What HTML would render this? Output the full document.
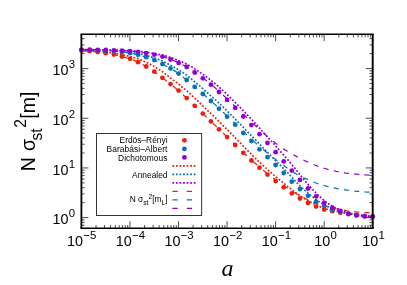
<!DOCTYPE html>
<html><head><meta charset="utf-8"><style>
html,body{margin:0;padding:0;background:#fff;overflow:hidden}
svg{display:block;font-family:"Liberation Sans",sans-serif;will-change:transform;}
</style></head><body>
<svg width="407" height="285" viewBox="0 0 407 285">
<rect width="407" height="285" fill="#fff"/>
<path d="M364.3,212.6 L365.6,212.6 L366.9,212.7 L368.2,212.7 L369.5,212.8M354.1,211.7 L355.4,211.8 L356.7,212.0 L358.0,212.1 L359.3,212.2M343.9,210.2 L345.2,210.4 L346.4,210.7 L347.7,210.9 L349.0,211.0M333.7,208.2 L335.0,208.5 L336.2,208.8 L337.5,209.0 L338.8,209.3M323.5,205.8 L324.8,206.2 L326.1,206.4 L327.3,206.7 L328.6,207.0M313.5,202.2 L314.7,202.7 L315.9,203.3 L317.1,203.7 L318.3,204.1M303.4,197.6 L304.6,198.1 L305.7,198.7 L306.9,199.3 L308.0,199.9M293.3,192.0 L294.4,192.7 L295.6,193.3 L296.7,194.0 L297.8,194.6M283.3,185.3 L284.4,186.1 L285.4,186.8 L286.5,187.5 L287.6,188.3M273.2,177.9 L274.3,178.7 L275.3,179.5 L276.4,180.3 L277.4,181.0M263.2,170.1 L264.2,170.9 L265.2,171.7 L266.2,172.6 L267.2,173.4M253.1,161.5 L254.1,162.4 L255.1,163.2 L256.1,164.1 L257.1,164.9M243.1,152.3 L244.1,153.2 L245.0,154.1 L246.0,155.0 L246.9,155.9M233.1,142.7 L234.0,143.6 L235.0,144.5 L235.9,145.4 L236.8,146.3M223.0,133.0 L224.0,133.9 L224.9,134.8 L225.9,135.7 L226.8,136.6M213.0,123.3 L213.9,124.3 L214.9,125.2 L215.8,126.1 L216.7,127.0M203.0,113.7 L203.9,114.6 L204.9,115.5 L205.8,116.4 L206.7,117.3M193.0,104.1 L193.9,105.0 L194.8,105.9 L195.8,106.8 L196.7,107.7M182.9,94.6 L183.9,95.5 L184.8,96.4 L185.8,97.3 L186.8,98.2M172.8,86.0 L173.9,86.8 L174.9,87.6 L175.9,88.4 L176.9,89.2M162.8,78.1 L163.9,78.9 L164.9,79.7 L165.9,80.5 L167.0,81.3M152.9,70.8 L153.9,71.4 L154.9,72.2 L156.0,73.0 L157.0,73.8M142.7,64.6 L143.9,65.2 L145.0,65.9 L146.2,66.5 L147.3,67.2M132.7,59.9 L133.9,60.4 L135.1,60.9 L136.3,61.4 L137.5,61.9M122.7,56.7 L123.9,57.1 L125.2,57.4 L126.4,57.8 L127.7,58.1M112.7,54.4 L114.0,54.6 L115.3,54.9 L116.5,55.2 L117.8,55.5M102.8,52.8 L104.1,53.0 L105.4,53.1 L106.7,53.4 L108.0,53.6M92.9,51.5 L94.2,51.7 L95.5,51.8 L96.8,51.9 L98.1,52.1M83.1,50.7 L84.4,50.8 L85.7,50.9 L87.0,51.0 L88.3,51.1" fill="none" stroke="#e6210f" stroke-width="1.25"/>
<path d="M364.3,191.9 L365.6,192.0 L366.9,192.1 L368.2,192.2 L369.5,192.2M354.1,191.0 L355.4,191.2 L356.7,191.3 L358.0,191.4 L359.3,191.5M343.9,189.6 L345.2,189.8 L346.4,190.1 L347.7,190.2 L349.0,190.4M333.7,187.9 L335.0,188.1 L336.2,188.3 L337.5,188.6 L338.8,188.8M323.5,185.4 L324.8,185.7 L326.1,186.1 L327.3,186.4 L328.6,186.7M313.4,182.0 L314.7,182.5 L315.9,183.0 L317.1,183.4 L318.3,183.8M303.4,177.5 L304.5,178.1 L305.7,178.6 L306.9,179.2 L308.1,179.7M293.3,172.2 L294.4,172.9 L295.6,173.5 L296.7,174.2 L297.8,174.8M283.4,165.1 L284.4,165.9 L285.4,166.7 L286.5,167.5 L287.5,168.2M273.2,157.7 L274.3,158.4 L275.3,159.2 L276.3,160.0 L277.4,160.8M263.2,149.6 L264.2,150.4 L265.2,151.3 L266.2,152.1 L267.2,152.9M253.2,140.7 L254.2,141.6 L255.1,142.5 L256.1,143.4 L257.0,144.2M243.1,131.5 L244.1,132.3 L245.0,133.2 L246.0,134.1 L246.9,135.0M233.1,121.8 L234.0,122.6 L235.0,123.5 L235.9,124.4 L236.8,125.4M223.0,112.1 L224.0,113.0 L224.9,113.9 L225.8,114.8 L226.8,115.7M213.0,102.6 L213.9,103.5 L214.9,104.4 L215.8,105.3 L216.8,106.2M202.9,93.8 L203.9,94.6 L204.9,95.5 L205.8,96.3 L206.8,97.2M192.9,85.1 L193.9,86.0 L194.8,86.8 L195.8,87.7 L196.8,88.5M182.8,76.8 L183.8,77.7 L184.8,78.5 L185.9,79.3 L186.9,80.1M172.7,69.7 L173.8,70.4 L174.9,71.1 L176.0,71.8 L177.1,72.5M162.6,64.2 L163.8,64.8 L164.9,65.4 L166.0,66.0 L167.2,66.6M152.6,59.4 L153.8,59.8 L154.9,60.3 L156.1,60.9 L157.3,61.5M142.5,56.1 L143.8,56.4 L145.0,56.8 L146.3,57.2 L147.5,57.6M132.5,53.6 L133.8,53.9 L135.1,54.1 L136.4,54.4 L137.6,54.7M122.6,52.1 L123.9,52.2 L125.2,52.4 L126.5,52.6 L127.7,52.8M112.7,51.2 L114.0,51.3 L115.3,51.4 L116.6,51.5 L117.9,51.6M102.8,50.6 L104.1,50.7 L105.4,50.7 L106.7,50.8 L108.0,50.9M92.9,50.2 L94.2,50.2 L95.5,50.3 L96.8,50.3 L98.1,50.4M83.1,49.9 L84.4,49.9 L85.7,50.0 L87.0,50.0 L88.3,50.0" fill="none" stroke="#0a72b2" stroke-width="1.25"/>
<path d="M364.3,174.8 L365.6,174.9 L366.9,175.0 L368.2,175.1 L369.5,175.2M354.1,173.9 L355.4,174.1 L356.7,174.2 L358.0,174.3 L359.3,174.4M343.9,172.7 L345.2,173.0 L346.4,173.2 L347.7,173.3 L349.0,173.5M333.7,170.7 L335.0,171.0 L336.2,171.3 L337.5,171.5 L338.8,171.8M323.5,168.1 L324.8,168.5 L326.1,168.9 L327.3,169.2 L328.6,169.5M313.4,164.5 L314.7,165.0 L315.9,165.4 L317.1,165.9 L318.3,166.3M303.4,160.0 L304.5,160.5 L305.7,161.1 L306.9,161.6 L308.1,162.2M293.3,154.7 L294.4,155.3 L295.6,155.9 L296.7,156.5 L297.8,157.2M283.2,148.7 L284.3,149.4 L285.4,150.1 L286.5,150.8 L287.6,151.4M273.3,141.3 L274.3,142.1 L275.3,142.9 L276.3,143.7 L277.4,144.5M263.2,132.8 L264.2,133.7 L265.2,134.5 L266.2,135.4 L267.2,136.2M253.2,123.6 L254.2,124.5 L255.1,125.4 L256.0,126.3 L257.0,127.2M243.1,114.1 L244.1,115.0 L245.0,115.9 L246.0,116.8 L246.9,117.7M233.1,104.4 L234.0,105.3 L235.0,106.1 L235.9,107.1 L236.8,108.0M223.0,95.0 L224.0,95.9 L224.9,96.8 L225.9,97.7 L226.8,98.6M212.9,85.9 L213.9,86.8 L214.9,87.6 L215.9,88.5 L216.8,89.3M202.8,77.9 L203.8,78.7 L204.9,79.5 L205.9,80.3 L206.9,81.1M192.7,70.8 L193.8,71.5 L194.8,72.3 L195.9,73.0 L197.0,73.8M182.5,64.7 L183.7,65.3 L184.8,65.9 L186.0,66.4 L187.2,67.1M172.5,60.2 L173.7,60.7 L174.9,61.2 L176.1,61.7 L177.3,62.2M162.5,56.5 L163.7,56.9 L164.9,57.3 L166.1,57.8 L167.3,58.2M152.4,54.1 L153.7,54.4 L154.9,54.6 L156.2,54.9 L157.5,55.2M142.4,52.4 L143.7,52.6 L145.0,52.8 L146.3,53.0 L147.6,53.2M132.5,51.2 L133.8,51.3 L135.1,51.4 L136.4,51.5 L137.7,51.6M122.6,50.5 L123.9,50.6 L125.2,50.7 L126.5,50.8 L127.8,50.8M112.7,50.1 L114.0,50.2 L115.3,50.2 L116.6,50.3 L117.9,50.3M102.8,49.8 L104.1,49.8 L105.4,49.9 L106.7,49.9 L108.0,50.0M92.9,49.6 L94.2,49.6 L95.5,49.7 L96.8,49.7 L98.1,49.7M83.1,49.5 L84.4,49.5 L85.7,49.5 L87.0,49.6 L88.3,49.6" fill="none" stroke="#9400d3" stroke-width="1.25"/>
<path d="M81.35,50.57L83.15,50.58M84.85,50.58L86.65,50.59M88.35,50.60L90.15,50.60M91.85,50.76L93.65,50.89M95.35,51.02L97.15,51.15M98.85,51.31L100.65,51.49M102.35,51.65L104.15,51.83M105.86,52.00L107.64,52.27M109.36,52.52L111.14,52.79M112.86,53.03L114.64,53.32M116.31,53.61L118.09,53.92M119.76,54.21L121.54,54.52M123.22,54.89L124.98,55.30M126.67,55.70L128.43,56.11M130.08,56.50L131.82,57.00M133.48,57.47L135.22,57.96M136.90,58.41L138.60,58.98M140.17,59.65L141.83,60.35M143.42,61.02L145.08,61.72M146.66,62.43L148.24,63.27M149.76,64.08L151.34,64.92M152.86,65.72L154.44,66.59M155.89,67.52L157.41,68.50M158.84,69.42L160.36,70.39M161.83,71.28L163.27,72.37M164.63,73.40L166.07,74.48M167.43,75.51L168.87,76.60M170.24,77.63L171.66,78.73M173.04,79.81L174.46,80.92M175.84,81.99L177.26,83.10M178.60,84.15L180.00,85.28M181.35,86.36L182.75,87.49M184.10,88.57L185.50,89.70M186.84,90.81L188.16,92.03M189.44,93.22L190.76,94.45M192.04,95.64L193.36,96.86M194.65,98.06L195.95,99.30M197.20,100.49L198.50,101.73M199.75,102.92L201.05,104.16M202.30,105.35L203.60,106.60M204.85,107.81L206.15,109.06M207.40,110.27L208.70,111.52M209.95,112.73L211.25,113.98M212.50,115.20L213.80,116.45M215.05,117.66L216.35,118.91M217.60,120.12L218.90,121.37M220.11,122.59L221.39,123.86M222.61,125.09L223.89,126.36M225.11,127.59L226.39,128.86M227.62,130.10L228.88,131.38M230.12,132.62L231.38,133.90M232.62,135.15L233.88,136.43M235.12,137.69L236.38,138.98M237.57,140.20L238.83,141.48M240.02,142.70L241.28,143.99M242.52,145.25L243.78,146.53M245.02,147.78L246.28,149.06M247.52,150.31L248.78,151.59M250.01,152.83L251.29,154.10M252.51,155.32L253.79,156.59M255.01,157.81L256.29,159.08M257.49,160.28L258.81,161.52M260.09,162.70L261.41,163.93M262.69,165.12L264.01,166.34M265.28,167.52L266.62,168.72M267.93,169.88L269.27,171.07M270.58,172.23L271.92,173.43M273.21,174.57L274.59,175.71M275.96,176.84L277.34,177.98M278.71,179.10L280.09,180.25M281.45,181.36L282.85,182.49M284.20,183.59L285.60,184.72M286.95,185.82L288.35,186.96M289.69,188.02L291.11,189.13M292.49,190.22L293.91,191.33M295.29,192.42L296.71,193.53M298.15,194.46L299.65,195.44M301.10,196.39L302.60,197.38M304.02,198.34L305.58,199.22M307.07,200.07L308.63,200.95M310.12,201.79L311.68,202.68M313.24,203.45L314.86,204.22M316.44,204.97L318.06,205.74M319.62,206.47L321.28,207.15M322.91,207.72L324.59,208.35M326.21,208.95L327.89,209.57M329.57,209.91L331.33,210.29M333.02,210.66L334.78,211.04M336.47,211.40L338.23,211.76M339.92,212.10L341.68,212.46M343.36,212.81L345.14,213.12M346.81,213.42L348.59,213.74M350.26,214.04L352.04,214.34M353.76,214.60L355.54,214.87M357.26,215.13L359.04,215.40M360.76,215.60L362.54,215.80M364.26,216.00L366.04,216.21M367.75,216.35L369.55,216.44M371.25,216.52L373.05,216.62" fill="none" stroke="#e6210f" stroke-width="1.7"/>
<path d="M81.35,49.88L83.15,49.88M84.85,49.89L86.65,49.90M88.35,49.92L90.15,49.96M91.85,50.00L93.65,50.05M95.35,50.09L97.15,50.15M98.85,50.22L100.65,50.28M102.35,50.35L104.15,50.41M105.85,50.50L107.65,50.59M109.35,50.68L111.15,50.76M112.85,50.86L114.65,50.97M116.35,51.08L118.15,51.19M119.85,51.29L121.65,51.45M123.35,51.60L125.15,51.75M126.86,51.88L128.64,52.08M130.36,52.32L132.14,52.56M133.86,52.79L135.64,53.04M137.32,53.36L139.08,53.73M140.77,54.08L142.53,54.45M144.24,54.82L145.96,55.33M147.64,55.83L149.36,56.34M151.04,56.83L152.76,57.36M154.40,57.94L156.10,58.53M157.75,59.10L159.45,59.69M161.05,60.36L162.65,61.17M164.20,61.95L165.80,62.77M167.35,63.55L168.95,64.37M170.46,65.18L172.04,66.03M173.56,66.83L175.14,67.67M176.64,68.49L178.16,69.46M179.59,70.39L181.11,71.36M182.54,72.28L184.06,73.26M185.44,74.28L186.86,75.40M188.19,76.46L189.61,77.57M190.94,78.63L192.36,79.75M193.67,80.85L195.03,82.02M196.37,83.16L197.73,84.33M199.07,85.46L200.43,86.63M201.73,87.76L203.07,88.95M204.38,90.10L205.72,91.29M207.03,92.44L208.37,93.63M209.67,94.77L211.03,95.95M212.32,97.09L213.68,98.28M214.97,99.41L216.33,100.60M217.60,101.79L218.90,103.04M220.15,104.25L221.45,105.49M222.70,106.70L224.00,107.95M225.21,109.14L226.49,110.42M227.71,111.65L228.99,112.92M230.21,114.15L231.49,115.42M232.71,116.65L233.99,117.93M235.21,119.16L236.49,120.43M237.71,121.66L238.99,122.93M240.22,124.17L241.48,125.46M242.68,126.71L243.92,128.01M245.13,129.27L246.37,130.57M247.58,131.83L248.82,133.13M250.07,134.39L251.33,135.67M252.57,136.93L253.83,138.21M255.07,139.46L256.33,140.75M257.53,142.00L258.77,143.30M259.98,144.58L261.22,145.88M262.43,147.15L263.67,148.46M264.87,149.70L266.13,150.98M267.37,152.23L268.63,153.50M269.87,154.75L271.13,156.03M272.36,157.27L273.64,158.54M274.86,159.76L276.14,161.03M277.36,162.26L278.64,163.53M279.87,164.75L281.13,166.04M282.32,167.26L283.58,168.55M284.77,169.77L286.03,171.05M287.24,172.28L288.46,173.59M289.60,174.86L290.80,176.20M291.95,177.49L293.15,178.83M294.30,180.11L295.50,181.45M296.75,182.68L298.05,183.92M299.30,185.10L300.60,186.34M301.85,187.52L303.15,188.76M304.43,189.90L305.77,191.10M307.08,192.25L308.42,193.44M309.73,194.59L311.07,195.79M312.48,196.84L313.92,197.92M315.33,198.97L316.77,200.05M318.14,201.11L319.66,202.09M321.16,202.91L322.74,203.78M324.26,204.62L325.84,205.50M327.34,206.30L328.96,207.09M330.49,207.85L332.11,208.64M333.64,209.39L335.26,210.18M336.97,210.47L338.73,210.87M340.42,211.25L342.18,211.65M343.88,212.06L345.62,212.50M347.28,212.91L349.02,213.35M350.71,213.78L352.49,214.10M354.16,214.39L355.94,214.70M357.61,215.03L359.39,215.28M361.11,215.49L362.89,215.72M364.61,215.93L366.39,216.16M368.10,216.27L369.90,216.36M371.60,216.49L373.40,216.49" fill="none" stroke="#0a72b2" stroke-width="1.7"/>
<path d="M81.35,49.58L83.15,49.58M84.85,49.59L86.65,49.60M88.35,49.62L90.15,49.64M91.85,49.66L93.65,49.68M95.35,49.70L97.15,49.73M98.85,49.75L100.65,49.77M102.35,49.79L104.15,49.82M105.85,49.87L107.65,49.91M109.35,49.95L111.15,50.00M112.85,50.06L114.65,50.13M116.35,50.19L118.15,50.26M119.85,50.32L121.65,50.39M123.35,50.45L125.15,50.51M126.85,50.56L128.65,50.67M130.35,50.78L132.15,50.89M133.85,51.00L135.65,51.11M137.35,51.26L139.15,51.41M140.85,51.56L142.65,51.72M144.36,51.92L146.14,52.20M147.86,52.48L149.64,52.77M151.36,53.04L153.14,53.36M154.82,53.68L156.58,54.00M158.27,54.32L160.03,54.64M161.73,55.08L163.47,55.51M165.13,55.92L166.87,56.35M168.55,56.84L170.25,57.45M171.85,58.02L173.55,58.63M175.16,59.20L176.84,59.85M178.42,60.53L180.08,61.22M181.67,61.89L183.33,62.59M184.90,63.32L186.50,64.13M188.05,64.92L189.65,65.73M191.22,66.51L192.78,67.39M194.21,68.39L195.69,69.41M197.11,70.37L198.59,71.38M200.02,72.34L201.48,73.39M202.87,74.38L204.33,75.43M205.72,76.43L207.18,77.47M208.59,78.51L210.01,79.62M211.34,80.68L212.76,81.80M214.09,82.86L215.51,83.97M216.83,85.07L218.17,86.28M219.43,87.42L220.77,88.62M222.03,89.76L223.37,90.97M224.66,92.14L225.94,93.40M227.21,94.63L228.49,95.89M229.76,97.12L231.04,98.38M232.31,99.61L233.59,100.88M234.81,102.09L236.09,103.35M237.31,104.56L238.59,105.82M239.81,107.03L241.09,108.30M242.28,109.60L243.52,110.91M244.68,112.15L245.92,113.46M247.08,114.70L248.32,116.01M249.48,117.25L250.72,118.56M251.88,119.80L253.12,121.11M254.28,122.35L255.52,123.66M256.70,124.93L257.90,126.26M259.05,127.56L260.25,128.90M261.40,130.20L262.60,131.55M263.75,132.85L264.95,134.19M266.14,135.49L267.36,136.81M268.54,138.10L269.76,139.43M270.94,140.71L272.16,142.04M273.31,143.30L274.49,144.65M275.66,145.97L276.84,147.32M278.01,148.64L279.19,149.99M280.36,151.32L281.54,152.67M282.71,153.99L283.89,155.34M285.06,156.66L286.24,158.01M287.41,159.33L288.59,160.69M289.73,162.02L290.87,163.42M291.98,164.79L293.12,166.18M294.23,167.55L295.37,168.94M296.49,170.31L297.61,171.72M298.69,173.08L299.81,174.49M300.89,175.85L302.01,177.26M303.08,178.62L304.22,180.01M305.35,181.31L306.55,182.66M307.70,183.97L308.90,185.32M310.05,186.63L311.25,187.98M312.42,189.23L313.68,190.52M314.87,191.74L316.13,193.03M317.32,194.26L318.58,195.55M319.82,196.74L321.18,197.91M322.52,199.06L323.88,200.24M325.22,201.39L326.58,202.56M328.03,203.56L329.57,204.47M331.08,205.36L332.62,206.28M334.10,207.19L335.70,207.99M337.32,208.62L338.98,209.30M340.57,209.93L342.23,210.61M343.85,211.20L345.55,211.78M347.20,212.34L348.90,212.92M350.53,213.47L352.27,213.92M353.97,214.22L355.73,214.57M357.42,214.91L359.18,215.27M360.91,215.46L362.69,215.69M364.41,215.90L366.19,216.13M367.90,216.26L369.70,216.35M371.40,216.43L373.20,216.52" fill="none" stroke="#9400d3" stroke-width="1.7"/>
<circle cx="81.5" cy="50.6" r="2.4" fill="#e6210f"/>
<circle cx="89.6" cy="51.2" r="2.4" fill="#e6210f"/>
<circle cx="97.7" cy="52.0" r="2.4" fill="#e6210f"/>
<circle cx="105.8" cy="53.2" r="2.4" fill="#e6210f"/>
<circle cx="113.9" cy="54.6" r="2.4" fill="#e6210f"/>
<circle cx="121.9" cy="56.5" r="2.4" fill="#e6210f"/>
<circle cx="130.0" cy="58.8" r="2.4" fill="#e6210f"/>
<circle cx="138.1" cy="62.2" r="2.4" fill="#e6210f"/>
<circle cx="146.2" cy="66.5" r="2.4" fill="#e6210f"/>
<circle cx="154.3" cy="71.7" r="2.4" fill="#e6210f"/>
<circle cx="162.4" cy="77.8" r="2.4" fill="#e6210f"/>
<circle cx="170.5" cy="84.1" r="2.4" fill="#e6210f"/>
<circle cx="178.6" cy="90.6" r="2.4" fill="#e6210f"/>
<circle cx="186.7" cy="98.1" r="2.4" fill="#e6210f"/>
<circle cx="194.7" cy="105.8" r="2.4" fill="#e6210f"/>
<circle cx="202.8" cy="113.6" r="2.4" fill="#e6210f"/>
<circle cx="210.9" cy="121.4" r="2.4" fill="#e6210f"/>
<circle cx="219.0" cy="129.3" r="2.4" fill="#e6210f"/>
<circle cx="227.1" cy="137.1" r="2.4" fill="#e6210f"/>
<circle cx="235.2" cy="145.0" r="2.4" fill="#e6210f"/>
<circle cx="243.3" cy="152.8" r="2.4" fill="#e6210f"/>
<circle cx="251.4" cy="160.5" r="2.4" fill="#e6210f"/>
<circle cx="259.5" cy="167.7" r="2.4" fill="#e6210f"/>
<circle cx="267.5" cy="174.6" r="2.4" fill="#e6210f"/>
<circle cx="275.6" cy="181.0" r="2.4" fill="#e6210f"/>
<circle cx="283.7" cy="187.3" r="2.4" fill="#e6210f"/>
<circle cx="291.8" cy="193.4" r="2.4" fill="#e6210f"/>
<circle cx="299.9" cy="198.5" r="2.4" fill="#e6210f"/>
<circle cx="308.0" cy="202.9" r="2.4" fill="#e6210f"/>
<circle cx="316.1" cy="206.6" r="2.4" fill="#e6210f"/>
<circle cx="324.2" cy="209.5" r="2.4" fill="#e6210f"/>
<circle cx="332.3" cy="211.2" r="2.4" fill="#e6210f"/>
<circle cx="340.3" cy="212.8" r="2.4" fill="#e6210f"/>
<circle cx="348.4" cy="214.2" r="2.4" fill="#e6210f"/>
<circle cx="356.5" cy="215.4" r="2.4" fill="#e6210f"/>
<circle cx="364.6" cy="216.3" r="2.4" fill="#e6210f"/>
<circle cx="372.7" cy="216.7" r="2.4" fill="#e6210f"/>
<circle cx="81.5" cy="49.9" r="2.4" fill="#0a72b2"/>
<circle cx="89.6" cy="50.1" r="2.4" fill="#0a72b2"/>
<circle cx="97.7" cy="50.4" r="2.4" fill="#0a72b2"/>
<circle cx="105.8" cy="50.8" r="2.4" fill="#0a72b2"/>
<circle cx="113.9" cy="51.3" r="2.4" fill="#0a72b2"/>
<circle cx="121.9" cy="52.0" r="2.4" fill="#0a72b2"/>
<circle cx="130.0" cy="53.1" r="2.4" fill="#0a72b2"/>
<circle cx="138.1" cy="54.8" r="2.4" fill="#0a72b2"/>
<circle cx="146.2" cy="57.2" r="2.4" fill="#0a72b2"/>
<circle cx="154.3" cy="60.0" r="2.4" fill="#0a72b2"/>
<circle cx="162.4" cy="64.1" r="2.4" fill="#0a72b2"/>
<circle cx="170.5" cy="68.4" r="2.4" fill="#0a72b2"/>
<circle cx="178.6" cy="73.6" r="2.4" fill="#0a72b2"/>
<circle cx="186.7" cy="80.0" r="2.4" fill="#0a72b2"/>
<circle cx="194.7" cy="86.9" r="2.4" fill="#0a72b2"/>
<circle cx="202.8" cy="94.0" r="2.4" fill="#0a72b2"/>
<circle cx="210.9" cy="101.0" r="2.4" fill="#0a72b2"/>
<circle cx="219.0" cy="108.7" r="2.4" fill="#0a72b2"/>
<circle cx="227.1" cy="116.7" r="2.4" fill="#0a72b2"/>
<circle cx="235.2" cy="124.7" r="2.4" fill="#0a72b2"/>
<circle cx="243.3" cy="133.0" r="2.4" fill="#0a72b2"/>
<circle cx="251.4" cy="141.0" r="2.4" fill="#0a72b2"/>
<circle cx="259.5" cy="149.3" r="2.4" fill="#0a72b2"/>
<circle cx="267.5" cy="157.2" r="2.4" fill="#0a72b2"/>
<circle cx="275.6" cy="165.0" r="2.4" fill="#0a72b2"/>
<circle cx="283.7" cy="173.0" r="2.4" fill="#0a72b2"/>
<circle cx="291.8" cy="181.7" r="2.4" fill="#0a72b2"/>
<circle cx="299.9" cy="189.0" r="2.4" fill="#0a72b2"/>
<circle cx="308.0" cy="195.8" r="2.4" fill="#0a72b2"/>
<circle cx="316.1" cy="201.7" r="2.4" fill="#0a72b2"/>
<circle cx="324.2" cy="206.1" r="2.4" fill="#0a72b2"/>
<circle cx="332.3" cy="210.0" r="2.4" fill="#0a72b2"/>
<circle cx="340.3" cy="211.8" r="2.4" fill="#0a72b2"/>
<circle cx="348.4" cy="213.8" r="2.4" fill="#0a72b2"/>
<circle cx="356.5" cy="215.2" r="2.4" fill="#0a72b2"/>
<circle cx="364.6" cy="216.2" r="2.4" fill="#0a72b2"/>
<circle cx="372.7" cy="216.6" r="2.4" fill="#0a72b2"/>
<circle cx="81.5" cy="49.6" r="2.4" fill="#9400d3"/>
<circle cx="89.6" cy="49.7" r="2.4" fill="#9400d3"/>
<circle cx="97.7" cy="49.8" r="2.4" fill="#9400d3"/>
<circle cx="105.8" cy="50.0" r="2.4" fill="#9400d3"/>
<circle cx="113.9" cy="50.3" r="2.4" fill="#9400d3"/>
<circle cx="121.9" cy="50.6" r="2.4" fill="#9400d3"/>
<circle cx="130.0" cy="51.1" r="2.4" fill="#9400d3"/>
<circle cx="138.1" cy="51.8" r="2.4" fill="#9400d3"/>
<circle cx="146.2" cy="53.1" r="2.4" fill="#9400d3"/>
<circle cx="154.3" cy="54.6" r="2.4" fill="#9400d3"/>
<circle cx="162.4" cy="56.6" r="2.4" fill="#9400d3"/>
<circle cx="170.5" cy="59.5" r="2.4" fill="#9400d3"/>
<circle cx="178.6" cy="62.9" r="2.4" fill="#9400d3"/>
<circle cx="186.7" cy="67.0" r="2.4" fill="#9400d3"/>
<circle cx="194.7" cy="72.5" r="2.4" fill="#9400d3"/>
<circle cx="202.8" cy="78.3" r="2.4" fill="#9400d3"/>
<circle cx="210.9" cy="84.7" r="2.4" fill="#9400d3"/>
<circle cx="219.0" cy="92.0" r="2.4" fill="#9400d3"/>
<circle cx="227.1" cy="99.9" r="2.4" fill="#9400d3"/>
<circle cx="235.2" cy="107.9" r="2.4" fill="#9400d3"/>
<circle cx="243.3" cy="116.5" r="2.4" fill="#9400d3"/>
<circle cx="251.4" cy="125.1" r="2.4" fill="#9400d3"/>
<circle cx="259.5" cy="134.2" r="2.4" fill="#9400d3"/>
<circle cx="267.5" cy="143.0" r="2.4" fill="#9400d3"/>
<circle cx="275.6" cy="152.2" r="2.4" fill="#9400d3"/>
<circle cx="283.7" cy="161.4" r="2.4" fill="#9400d3"/>
<circle cx="291.8" cy="170.6" r="2.4" fill="#9400d3"/>
<circle cx="299.9" cy="179.9" r="2.4" fill="#9400d3"/>
<circle cx="308.0" cy="188.5" r="2.4" fill="#9400d3"/>
<circle cx="316.1" cy="196.3" r="2.4" fill="#9400d3"/>
<circle cx="324.2" cy="203.0" r="2.4" fill="#9400d3"/>
<circle cx="332.3" cy="207.7" r="2.4" fill="#9400d3"/>
<circle cx="340.3" cy="210.9" r="2.4" fill="#9400d3"/>
<circle cx="348.4" cy="213.6" r="2.4" fill="#9400d3"/>
<circle cx="356.5" cy="215.2" r="2.4" fill="#9400d3"/>
<circle cx="364.6" cy="216.2" r="2.4" fill="#9400d3"/>
<circle cx="372.7" cy="216.6" r="2.4" fill="#9400d3"/>
<path d="M81.4,225.29h3.2M372.7,225.29h-3.2M81.4,222.41h3.2M372.7,222.41h-3.2M81.4,219.87h3.2M372.7,219.87h-3.2M81.4,217.60h7M372.7,217.60h-7M81.4,202.65h3.2M372.7,202.65h-3.2M81.4,193.90h3.2M372.7,193.90h-3.2M81.4,187.70h3.2M372.7,187.70h-3.2M81.4,182.88h3.2M372.7,182.88h-3.2M81.4,178.95h3.2M372.7,178.95h-3.2M81.4,175.62h3.2M372.7,175.62h-3.2M81.4,172.74h3.2M372.7,172.74h-3.2M81.4,170.20h3.2M372.7,170.20h-3.2M81.4,167.93h7M372.7,167.93h-7M81.4,152.98h3.2M372.7,152.98h-3.2M81.4,144.23h3.2M372.7,144.23h-3.2M81.4,138.03h3.2M372.7,138.03h-3.2M81.4,133.21h3.2M372.7,133.21h-3.2M81.4,129.28h3.2M372.7,129.28h-3.2M81.4,125.95h3.2M372.7,125.95h-3.2M81.4,123.07h3.2M372.7,123.07h-3.2M81.4,120.53h3.2M372.7,120.53h-3.2M81.4,118.26h7M372.7,118.26h-7M81.4,103.31h3.2M372.7,103.31h-3.2M81.4,94.56h3.2M372.7,94.56h-3.2M81.4,88.36h3.2M372.7,88.36h-3.2M81.4,83.54h3.2M372.7,83.54h-3.2M81.4,79.61h3.2M372.7,79.61h-3.2M81.4,76.28h3.2M372.7,76.28h-3.2M81.4,73.40h3.2M372.7,73.40h-3.2M81.4,70.86h3.2M372.7,70.86h-3.2M81.4,68.59h7M372.7,68.59h-7M81.4,53.64h3.2M372.7,53.64h-3.2M81.4,44.89h3.2M372.7,44.89h-3.2M81.4,38.69h3.2M372.7,38.69h-3.2M81.40,228.2v-7M81.40,34.2v7M96.02,228.2v-3.2M96.02,34.2v3.2M104.56,228.2v-3.2M104.56,34.2v3.2M110.63,228.2v-3.2M110.63,34.2v3.2M115.33,228.2v-3.2M115.33,34.2v3.2M119.18,228.2v-3.2M119.18,34.2v3.2M122.43,228.2v-3.2M122.43,34.2v3.2M125.25,228.2v-3.2M125.25,34.2v3.2M127.73,228.2v-3.2M127.73,34.2v3.2M129.95,228.2v-7M129.95,34.2v7M144.57,228.2v-3.2M144.57,34.2v3.2M153.11,228.2v-3.2M153.11,34.2v3.2M159.18,228.2v-3.2M159.18,34.2v3.2M163.88,228.2v-3.2M163.88,34.2v3.2M167.73,228.2v-3.2M167.73,34.2v3.2M170.98,228.2v-3.2M170.98,34.2v3.2M173.80,228.2v-3.2M173.80,34.2v3.2M176.28,228.2v-3.2M176.28,34.2v3.2M178.50,228.2v-7M178.50,34.2v7M193.12,228.2v-3.2M193.12,34.2v3.2M201.66,228.2v-3.2M201.66,34.2v3.2M207.73,228.2v-3.2M207.73,34.2v3.2M212.43,228.2v-3.2M212.43,34.2v3.2M216.28,228.2v-3.2M216.28,34.2v3.2M219.53,228.2v-3.2M219.53,34.2v3.2M222.35,228.2v-3.2M222.35,34.2v3.2M224.83,228.2v-3.2M224.83,34.2v3.2M227.05,228.2v-7M227.05,34.2v7M241.67,228.2v-3.2M241.67,34.2v3.2M250.21,228.2v-3.2M250.21,34.2v3.2M256.28,228.2v-3.2M256.28,34.2v3.2M260.98,228.2v-3.2M260.98,34.2v3.2M264.83,228.2v-3.2M264.83,34.2v3.2M268.08,228.2v-3.2M268.08,34.2v3.2M270.90,228.2v-3.2M270.90,34.2v3.2M273.38,228.2v-3.2M273.38,34.2v3.2M275.60,228.2v-7M275.60,34.2v7M290.22,228.2v-3.2M290.22,34.2v3.2M298.76,228.2v-3.2M298.76,34.2v3.2M304.83,228.2v-3.2M304.83,34.2v3.2M309.53,228.2v-3.2M309.53,34.2v3.2M313.38,228.2v-3.2M313.38,34.2v3.2M316.63,228.2v-3.2M316.63,34.2v3.2M319.45,228.2v-3.2M319.45,34.2v3.2M321.93,228.2v-3.2M321.93,34.2v3.2M324.15,228.2v-7M324.15,34.2v7M338.77,228.2v-3.2M338.77,34.2v3.2M347.31,228.2v-3.2M347.31,34.2v3.2M353.38,228.2v-3.2M353.38,34.2v3.2M358.08,228.2v-3.2M358.08,34.2v3.2M361.93,228.2v-3.2M361.93,34.2v3.2M365.18,228.2v-3.2M365.18,34.2v3.2M368.00,228.2v-3.2M368.00,34.2v3.2M370.48,228.2v-3.2M370.48,34.2v3.2M372.70,228.2v-7M372.70,34.2v7" stroke="#000" stroke-width="0.7" fill="none"/>
<path d="M80.5,34.2H373.65M80.5,228.2H373.65" stroke="#000" stroke-width="1.4" fill="none"/>
<path d="M81.4,34.2V228.2" stroke="#000" stroke-width="1.8" fill="none"/>
<path d="M372.7,34.2V228.2" stroke="#000" stroke-width="1.9" fill="none"/>
<rect x="96.5" y="133.6" width="105.2" height="81.8" fill="#fff" stroke="#000" stroke-width="0.8"/>
<circle cx="184.4" cy="140.3" r="2.4" fill="#e6210f"/>
<circle cx="184.4" cy="148.9" r="2.4" fill="#0a72b2"/>
<circle cx="184.4" cy="157.4" r="2.4" fill="#9400d3"/>
<path d="M172.4,165.9H196" stroke="#e6210f" stroke-width="1.8" stroke-dasharray="1.8 1.75"/>
<path d="M172.4,174.4H196" stroke="#0a72b2" stroke-width="1.8" stroke-dasharray="1.8 1.75"/>
<path d="M172.4,182.85H196" stroke="#9400d3" stroke-width="1.8" stroke-dasharray="1.8 1.75"/>
<path d="M172.4,191.45h5.3M186.8,191.45h5.2" stroke="#e6210f" stroke-width="1.2"/>
<path d="M172.4,199.8h5.3M186.8,199.8h5.2" stroke="#0a72b2" stroke-width="1.2"/>
<path d="M172.4,208.3h5.3M186.8,208.3h5.2" stroke="#9400d3" stroke-width="1.2"/>
<text x="167.5" y="143.3" font-size="8.4" text-anchor="end" >Erdös–Rényi</text>
<text x="167.5" y="151.9" font-size="8.4" text-anchor="end" letter-spacing="0.09">Barabási–Albert</text>
<text x="167.5" y="160.5" font-size="8.4" text-anchor="end" letter-spacing="0.05">Dichotomous</text>
<text x="167.5" y="177.5" font-size="8.4" text-anchor="end" >Annealed</text>
<text x="167.5" y="202.3" font-size="8.4" text-anchor="end">N σ<tspan font-size="6.7" dy="2.7">st</tspan><tspan font-size="6.7" dy="-6.1">2</tspan><tspan dy="3.4">[m</tspan><tspan font-size="6.7" dy="2.5">L</tspan><tspan dy="-2.5">]</tspan></text>
<text x="67.0" y="246.0" font-size="14.4">10<tspan font-size="11.4" dy="-6.8" dx="0.3">−5</tspan></text>
<text x="115.7" y="246.0" font-size="14.4">10<tspan font-size="11.4" dy="-6.8" dx="0.3">−4</tspan></text>
<text x="164.4" y="246.0" font-size="14.4">10<tspan font-size="11.4" dy="-6.8" dx="0.3">−3</tspan></text>
<text x="213.1" y="246.0" font-size="14.4">10<tspan font-size="11.4" dy="-6.8" dx="0.3">−2</tspan></text>
<text x="261.8" y="246.0" font-size="14.4">10<tspan font-size="11.4" dy="-6.8" dx="0.3">−1</tspan></text>
<text x="314.2" y="246.0" font-size="14.4">10<tspan font-size="11.4" dy="-6.8" dx="0.3">0</tspan></text>
<text x="362.3" y="246.0" font-size="14.4">10<tspan font-size="11.4" dy="-6.8" dx="0.3">1</tspan></text>
<text x="52.4" y="75.19999999999999" font-size="14.4">10<tspan font-size="11.4" dy="-6.8" dx="0.3">3</tspan></text>
<text x="52.4" y="124.89999999999999" font-size="14.4">10<tspan font-size="11.4" dy="-6.8" dx="0.3">2</tspan></text>
<text x="52.4" y="174.5" font-size="14.4">10<tspan font-size="11.4" dy="-6.8" dx="0.3">1</tspan></text>
<text x="52.4" y="224.2" font-size="14.4">10<tspan font-size="11.4" dy="-6.8" dx="0.3">0</tspan></text>
<text transform="translate(35.1,171.2) rotate(-90)" font-size="19.5">N<tspan dx="6.1">σ</tspan><tspan font-size="15.6" dy="6.8" dx="-1.5">st</tspan><tspan font-size="15.6" dy="-16.3" dx="0.5">2</tspan><tspan dy="9.5" dx="0.5">[m]</tspan></text>
<text x="221.6" y="276.1" font-size="24" font-family="Liberation Serif" font-style="italic">a</text>
</svg>
</body></html>
